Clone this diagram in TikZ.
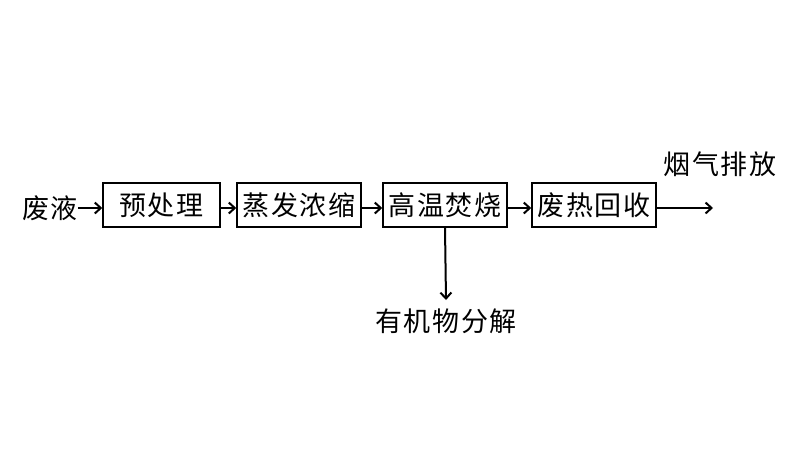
\documentclass[tikz,border=0pt]{standalone}
\usepackage{fontspec}
\newfontfamily\cjk[LetterSpace=6]{Noto Sans CJK SC}
\usetikzlibrary{arrows.meta}
\begin{document}
\begin{tikzpicture}[x=1pt,y=-1pt,
  every node/.style={font=\cjk\fontsize{27}{30}\selectfont, inner sep=0pt},
  stepbox/.style={draw, line width=1.5pt, minimum height=44pt, anchor=center},
  flow/.style={draw, line width=2pt, -{Straight Barb[length=6pt,width=11pt,line width=2pt]}}]
\useasboundingbox (0,0) rectangle (800,451);
\node[stepbox, minimum width=117pt] (b1) at (161.5,205) {预处理};
\node[stepbox, minimum width=124pt] (b2) at (299,205) {蒸发浓缩};
\node[stepbox, minimum width=124pt] (b3) at (445,205) {高温焚烧};
\node[stepbox, minimum width=124pt] (b4) at (594,205) {废热回收};
\node (in) at (50,208) {废液};
\node (gas) at (720,164) {烟气排放};
\node (org) at (446,321) {有机物分解};
\coordinate (outend) at (713,208);
\coordinate (downend) at (446,300);
\draw[flow] (in.east) -- (b1.west |- in.east);
\draw[flow] (b1.east |- in.east) -- (b2.west |- in.east);
\draw[flow] (b2.east |- in.east) -- (b3.west |- in.east);
\draw[flow] (b3.east |- in.east) -- (b4.west |- in.east);
\draw[flow] (b4.east |- in.east) -- (outend);
\draw[flow] (b3.south) -- (downend);
\end{tikzpicture}
\end{document}
